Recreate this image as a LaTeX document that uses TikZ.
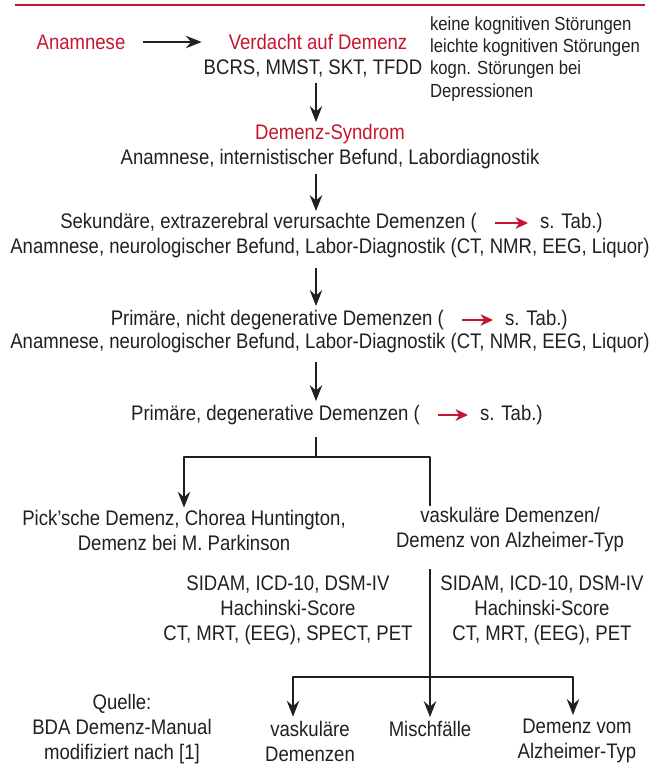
\documentclass[tikz,border=0pt]{standalone}
\usepackage{fontspec}
\setmainfont{Liberation Sans}[FakeStretch=0.88]
\usetikzlibrary{arrows.meta,positioning}
\definecolor{demred}{RGB}{196,22,48}
\definecolor{ink}{RGB}{35,31,32}
\begin{document}
\begin{tikzpicture}[x=0.02cm, y=-0.02cm, font=\fontsize{12}{14.2}\selectfont, text=ink, line join=round,
		every node/.style={inner sep=1pt, align=center},
		hl/.style={text=demred},
		note/.style={font=\fontsize{10.8}{12.6}\selectfont, align=left},
		flow/.style={draw=ink, line width=1.5pt},
		arr/.style={flow, -{Stealth[length=9pt, width=7pt, inset=3pt]}},
		tabarr/.style={draw=demred, line width=1.2pt, shorten <=0.32cm, shorten >=0.2cm, -{Stealth[length=7pt, width=6.5pt, inset=2pt]}}]
	\useasboundingbox (0,0) rectangle (655,769);
	\draw[demred, line width=1.6pt] (15,5) -- (645,5);
	\coordinate (spine) at (316,0);
	\coordinate (rail) at (430,0);
	% Kopfzeile
	\node[hl] (anam) at (81,42) {Anamnese};
	\node[hl] (verd) at (318,42) {Verdacht auf Demenz};
	\node (bcrs) at (313,68) {BCRS, MMST, SKT, TFDD};
	\node[note, anchor=west] (kog) at (428,59) {keine kognitiven Störungen\\leichte kognitiven Störungen\\kogn. Störungen bei\\Depressionen};
	\draw[arr, shorten <=0.32cm, shorten >=0.5cm] (anam.east) -- (verd.west);
	% Hauptstrang
	\node[hl] (syn) at (330,134) {Demenz-Syndrom};
	\node (intern) at (330,159) {Anamnese, internistischer Befund, Labordiagnostik};
	\node[anchor=east] (sek) at (479,223) {Sekundäre, extrazerebral verursachte Demenzen (};
	\node[anchor=west] (sektab) at (538,223) {s. Tab.)};
	\node (neuroA) at (330,248) {Anamnese, neurologischer Befund, Labor-Diagnostik (CT, NMR, EEG, Liquor)};
	\node[anchor=east] (nichtdeg) at (446,320) {Primäre, nicht degenerative Demenzen (};
	\node[anchor=west] (nichtdegtab) at (503,320) {s. Tab.)};
	\node (neuroB) at (330,343) {Anamnese, neurologischer Befund, Labor-Diagnostik (CT, NMR, EEG, Liquor)};
	\node[anchor=east] (deg) at (422,415) {Primäre, degenerative Demenzen (};
	\node[anchor=west] (degtab) at (478,415) {s. Tab.)};
	\draw[tabarr] (sek.east) -- (sektab.west);
	\draw[tabarr] (nichtdeg.east) -- (nichtdegtab.west);
	\draw[tabarr] (deg.east) -- (degtab.west);
	\draw[arr, shorten <=0.08cm] (bcrs.south -| spine) -- (syn.north -| spine);
	\draw[arr, shorten <=0.06cm] (intern.south -| spine) -- (sek.north -| spine);
	\draw[arr, shorten <=0.16cm, shorten >=0.04cm] (neuroA.south -| spine) -- (nichtdeg.north -| spine);
	\draw[arr, shorten <=0.14cm, shorten >=0.04cm] (neuroB.south -| spine) -- (deg.north -| spine);
	% Verzweigung
	\coordinate (fork) at (316,457);
	\node (pick) at (184,530) {Pick'sche Demenz, Chorea Huntington,\\Demenz bei M. Parkinson};
	\node (vask) at (510,530) {vaskuläre Demenzen/\\Demenz von Alzheimer-Typ};
	\draw[flow, shorten <=0.2cm] (deg.south -| spine) -- (fork);
	\draw[arr] (fork) -| (pick.north);
	\draw[flow] (fork) -| (vask.north -| rail);
	% Testverfahren
	\node (testL) at (288,610) {SIDAM, ICD-10, DSM-IV\\Hachinski-Score\\CT, MRT, (EEG), SPECT, PET};
	\node (testR) at (542,610) {SIDAM, ICD-10, DSM-IV\\Hachinski-Score\\CT, MRT, (EEG), PET};
	% Endpunkte
	\coordinate (fork2) at (430,677);
	\node (vaskend) at (310,741) {vaskuläre\\Demenzen};
	\node (misch) at (430,729) {Mischfälle};
	\node (alz) at (577,741) {Demenz vom\\Alzheimer-Typ};
	\node (quelle) at (122,729) {Quelle:\\BDA Demenz-Manual\\modifiziert nach [1]};
	\draw[flow, shorten <=0.3cm] (vask.south -| rail) -- (fork2);
	\draw[arr, shorten >=0.04cm] (fork2) -- (misch.north);
	\draw[arr, shorten >=0.04cm] (fork2) -| ([xshift=-0.34cm]vaskend.north);
	\draw[arr, shorten >=0.04cm] (fork2) -| ([xshift=-0.08cm]alz.north);
\end{tikzpicture}
\end{document}
